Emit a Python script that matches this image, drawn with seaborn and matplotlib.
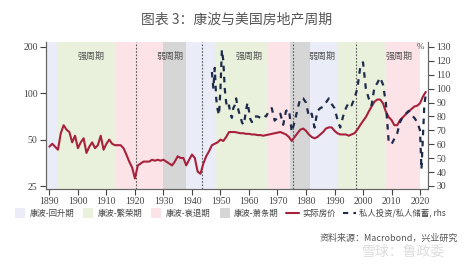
import numpy as np
import pandas as pd
import matplotlib
matplotlib.use("Agg")
import matplotlib.pyplot as plt
from matplotlib.lines import Line2D
import seaborn as sns

# 数据：实际房价（左轴，对数）
price_years = list(range(1890, 2023))
price_vals = [45, 47, 45, 43, 55, 62, 58, 56, 48, 53,
              44, 48, 51, 41, 45, 48, 44, 46, 53, 43,
              47, 50, 47, 46, 46, 46, 44, 40, 36, 33,
              28, 34, 35, 36, 36, 36, 37, 36.5, 37, 36.5,
              37, 36, 35, 34, 36, 39, 38, 38, 34, 37,
              40, 38, 31, 30, 35, 39, 42, 46, 47, 48,
              50, 49, 52, 56, 56, 56, 55.5, 55, 55, 54.5,
              54.5, 54, 54, 53.5, 53.5, 53, 53.5, 54, 54.5, 55,
              55.5, 56, 55, 54, 52, 49, 52, 55, 58, 59,
              57, 54, 52, 51, 52, 54, 56, 59, 60, 60,
              57, 55, 54, 54, 54, 53, 54, 55, 58, 62,
              66, 70, 76, 82, 88, 91, 91, 86, 76, 70,
              67, 62, 62, 67, 70, 73, 76, 79, 82, 83,
              86, 95, 102]

# 数据：私人投资/私人储蓄（右轴，%）
inv_years = [1947.0, 1947.5, 1948.0, 1948.5, 1949.0, 1949.5, 1950.0, 1950.5, 1951.0, 1951.5,
             1952.0, 1952.5, 1953.0, 1953.5, 1954.0, 1954.5, 1955.0, 1955.5, 1956.0, 1956.5,
             1957.0, 1957.5, 1958.0, 1958.5, 1959.0, 1959.5, 1960.0, 1960.5, 1961.0, 1961.5,
             1962, 1963, 1964, 1965, 1966, 1967, 1968, 1969, 1970, 1971,
             1972, 1973, 1974, 1975, 1976, 1977, 1978, 1979, 1980, 1981,
             1982, 1983, 1984, 1985, 1986, 1987, 1988, 1989, 1990, 1991,
             1992, 1993, 1994, 1995, 1996, 1997, 1998, 1999, 2000, 2001,
             2002, 2003, 2004, 2005, 2006, 2007, 2008, 2009, 2010, 2011,
             2012, 2013, 2014, 2015, 2016, 2017, 2018, 2019, 2020, 2020.5,
             2021, 2021.5, 2022]
inv_vals = [112, 100, 115, 93, 85, 81, 100, 128, 120, 100,
            90, 86, 88, 82, 79, 86, 88, 93, 87, 83,
            80, 76, 74, 78, 85, 90, 84, 78, 76, 77,
            80, 80, 79, 81, 80, 84, 86, 77, 79, 82,
            74, 84, 85, 69, 76, 85, 93, 93, 90, 80,
            82, 72, 84, 86, 87, 90, 93, 89, 86, 78,
            72, 80, 86, 90, 88, 93, 100, 115, 119, 100,
            93, 88, 101, 104, 108, 103, 90, 62, 60, 64,
            68, 76, 80, 82, 84, 81, 79, 76, 70, 42,
            65, 88, 96]

# 康波阶段
phase_start = [1888, 1892.5, 1913.5, 1930, 1938, 1948, 1966.3, 1974.3, 1981.5, 1991, 2008.2]
phase_end = [1892.5, 1913.5, 1930, 1938, 1948, 1966.3, 1974.3, 1981.5, 1991, 2008.2, 2020]
phase_kind = ["回升", "繁荣", "衰退", "萧条", "回升", "繁荣", "衰退", "萧条", "回升", "繁荣", "衰退"]
phase_names = ["康波-回升期", "康波-繁荣期", "康波-衰退期", "康波-萧条期"]
phase_colors = {"回升": "#eaedf7", "繁荣": "#e9f1dd", "衰退": "#fbe3e7", "萧条": "#d6d6d6"}

cycle_years = [1904.5, 1932.3, 1960, 1985.5, 2012.7]
cycle_labels = ["强周期", "弱周期", "强周期", "弱周期", "强周期"]
vline_years = [1920.4, 1943.6, 1975.3, 1997.6]

sns.set_style("ticks")
plt.rcParams['font.family'] = ['Noto Sans CJK SC', 'DejaVu Sans']

red = "#a8213c"
navy = "#1e2b4a"
grey_txt = "#444444"

df_price = pd.DataFrame({"year": price_years, "price": price_vals})
df_inv = pd.DataFrame({"year": inv_years, "ratio": inv_vals})

fig = plt.figure(figsize=(4.74, 2.64), dpi=100)
ax = fig.add_axes([0.097, 0.284, 0.806, 0.557])
ax2 = ax.twinx()

for s, e, k in zip(phase_start, phase_end, phase_kind):
    ax.axvspan(s, e, color=phase_colors[k], lw=0, zorder=0)
for v in vline_years:
    ax.axvline(v, color="#555555", lw=0.8, ls=(0, (1.5, 1.5)), zorder=1)

sns.lineplot(data=df_price, x="year", y="price", ax=ax, color=red, lw=1.5, zorder=3)
sns.lineplot(data=df_inv, x="year", y="ratio", ax=ax2, color=navy, lw=1.6,
             linestyle=(0, (2.5, 2.5)), zorder=3)

ax.set_yscale("log")
ax.set_ylim(23.9, 215)
ax.set_yticks([25, 50, 100, 200])
ax.set_yticklabels(["25", "50", "100", "200"])
ax.minorticks_off()
ax.set_xlim(1888.8, 2022.8)
ax.set_xticks(range(1890, 2021, 10))
ax2.set_ylim(27.8, 133.6)
ax2.set_yticks(range(30, 131, 10))
ax.set_xlabel("")
ax.set_ylabel("")
ax2.set_ylabel("")

for a in (ax, ax2):
    for sp in a.spines.values():
        sp.set_color("#666666")
        sp.set_linewidth(0.8)
    a.spines["top"].set_visible(False)
    a.tick_params(labelsize=7, colors=grey_txt, length=4, width=0.8, pad=2)
    for lab in a.get_xticklabels() + a.get_yticklabels():
        lab.set_fontfamily("Liberation Serif")
ax2.set_zorder(ax.get_zorder() + 1)
ax2.patch.set_visible(False)

for x, t in zip(cycle_years, cycle_labels):
    ax.text(x, 0.9, t, transform=ax.get_xaxis_transform(), ha="center", va="center",
            fontsize=6.5, color="#555555", zorder=4)
ax2.text(0.99, 0.965, "%", transform=ax2.transAxes, ha="right", va="center",
         fontsize=6.5, color=grey_txt, family="Liberation Serif")

handles = [Line2D([], [], marker="s", ls="none", markersize=7, markeredgewidth=0,
                  color=phase_colors[k]) for k in ["回升", "繁荣", "衰退", "萧条"]]
handles += [Line2D([], [], color=red, lw=1.5),
            Line2D([], [], color=navy, lw=1.5, ls=(0, (2.5, 2.5)))]
labels = phase_names + ["实际房价", "私人投资/私人储蓄, rhs"]
fig.legend(handles, labels, loc="center", bbox_to_anchor=(0.485, 0.193), ncol=6,
           frameon=False, fontsize=6, handlelength=1.5, handletextpad=0.4,
           columnspacing=0.9, labelcolor=grey_txt, borderpad=0.1)

fig.text(0.5, 0.925, "图表 3：康波与美国房地产周期", ha="center", va="center",
         fontsize=10, color="#555555")
fig.text(0.966, 0.098, "资料来源：Macrobond，兴业研究", ha="right", va="center",
         fontsize=6.5, color="#555555")
fig.text(0.94, 0.045, "雪球：鲁政委", ha="right", va="center", fontsize=10, color="#dddddd")

fig.savefig("out.png", dpi=100)
